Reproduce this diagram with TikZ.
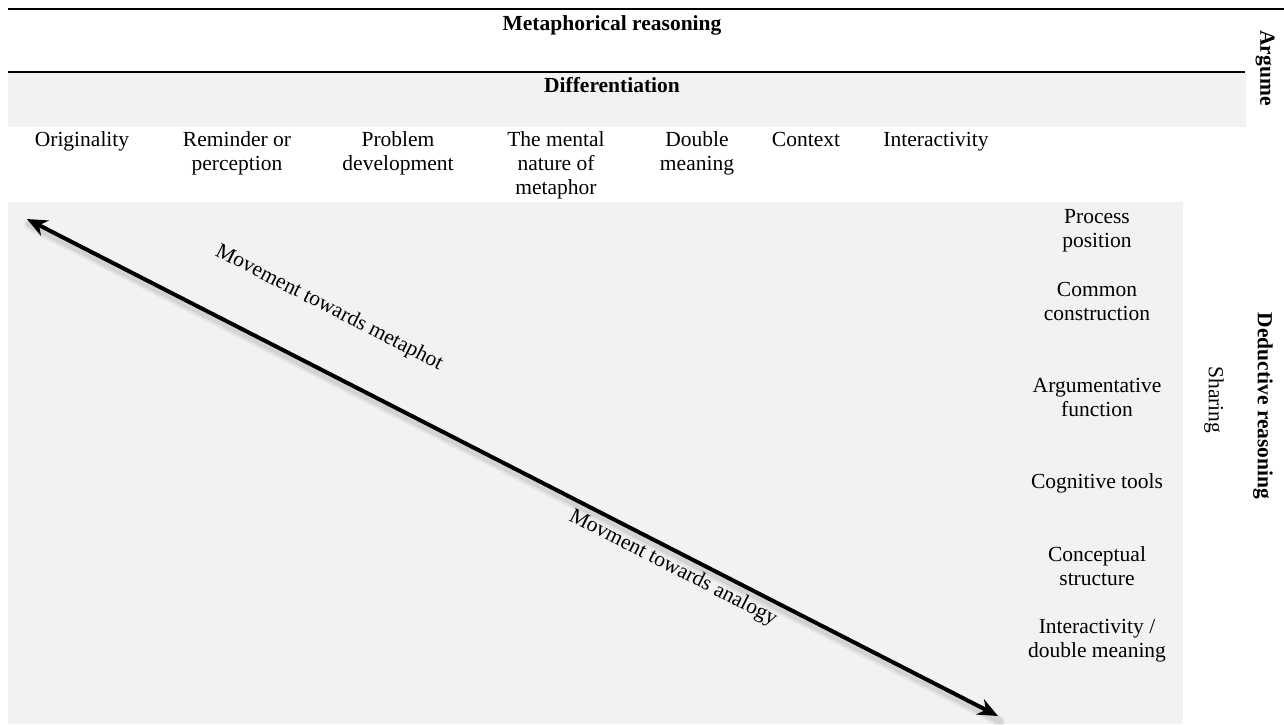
\documentclass[tikz,border=0pt]{standalone}
\usepackage{fontspec}
\setmainfont{Liberation Serif}
\usetikzlibrary{arrows.meta}
\definecolor{bggray}{RGB}{241,242,244}
\begin{document}
\begin{tikzpicture}[x=1pt,y=-1pt,
  every node/.style={inner sep=0pt,outer sep=0pt,font=\fontsize{21.5}{24}\selectfont},
  collabel/.style={anchor=north,align=center},
  rowlabel/.style={anchor=north,align=center},
  headlabel/.style={font=\fontsize{21.5}{24}\selectfont\bfseries},
  rule/.style={line width=2.2pt,black},
  axis/.style={line width=4pt,black,{Stealth[length=20pt,width=17pt]}-{Stealth[length=20pt,width=17pt]}},
  shadow/.style={line width=7pt,black,opacity=0.08,line cap=round}]
\useasboundingbox (0,0) rectangle (1284,724);
% backgrounds
\fill[bggray] (8,73) rectangle (1246,127);
\fill[bggray] (8,202) rectangle (1183,724);
% rules
\draw[rule] (8,9) -- (1284,9);
\draw[line width=1.8pt] (8,72) -- (1245,72);
% headings
\node[headlabel] (meta) at (612,25) {Metaphorical reasoning};
\node[headlabel] (diff) at (612,85) {Differentiation};
\node[headlabel,rotate=-90] (argu) at (1265,68) {Argume};
\node[headlabel,rotate=-90] (deduc) at (1263,406) {Deductive reasoning};
\node[rotate=-90] (share) at (1214,400) {Sharing};
% column labels
\node[collabel] (c1) at (82,132) {Originality};
\node[collabel] (c2) at (237,132) {Reminder or\\perception};
\node[collabel] (c3) at (398,132) {Problem\\development};
\node[collabel] (c4) at (556,132) {The mental\\nature of\\metaphor};
\node[collabel] (c5) at (697,132) {Double\\meaning};
\node[collabel] (c6) at (806,132) {Context};
\node[collabel] (c7) at (936,132) {Interactivity};
% row labels
\node[rowlabel] (r1) at (1097,209) {Process\\position};
\node[rowlabel] (r2) at (1097,282) {Common\\construction};
\node[rowlabel] (r3) at (1097,378) {Argumentative\\function};
\node[rowlabel] (r4) at (1097,474) {Cognitive tools};
\node[rowlabel] (r5) at (1097,547) {Conceptual\\structure};
\node[rowlabel] (r6) at (1097,619) {Interactivity /\\double meaning};
% diagonal arrow
\coordinate (a) at (27,219);
\coordinate (b) at (998,716);
\draw[shadow] ([shift={(2,5)}]a) -- ([shift={(2,5)}]b);
\draw[shadow,line width=10pt,opacity=0.05] ([shift={(2,6)}]a) -- ([shift={(2,6)}]b);
\draw[axis] (a) -- (b);
\node[rotate=-27.1] (lm) at (329,308) {Movement towards metaphot};
\node[rotate=-27.1] (la) at (673,568) {Movment towards analogy};
\end{tikzpicture}
\end{document}
